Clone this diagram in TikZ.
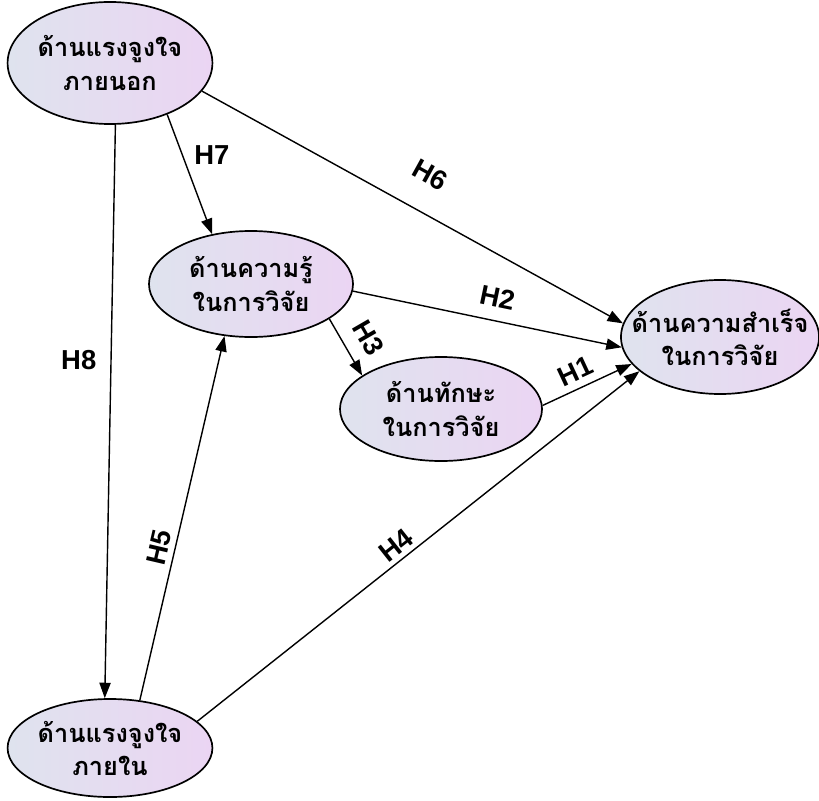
\documentclass[tikz,border=0pt]{standalone}
\usepackage{fontspec}
\setmainfont{Liberation Sans}
\newfontfamily\thaifont[Script=Thai]{Loma}
\usetikzlibrary{shapes.geometric,arrows.meta}

\definecolor{factorL}{HTML}{DFE3EE}
\definecolor{factorR}{HTML}{EBD5F3}

\tikzset{
  factor/.style={ellipse, draw, line width=1.2pt, left color=factorL, right color=factorR,
    inner xsep=-18pt, inner ysep=-10pt, align=center,
    font=\thaifont\bfseries\fontsize{18}{23.5}\selectfont},
  link/.style={line width=1pt, -{Triangle[length=11pt,width=8pt]}},
  lbl/.style={inner sep=0pt, font=\bfseries\fontsize{19.5}{22}\selectfont},
  hyp/.style={lbl, sloped, above=#1},
  hyp/.default=10pt
}

\begin{document}
\begin{tikzpicture}[x=0.025cm, y=-0.025cm]
  \useasboundingbox (0,0) rectangle (819,800);

  % the five factors
  \node[factor, minimum width=5.12cm, minimum height=3.05cm] (ext) at (110,63) {ด้านแรงจูงใจ\\ภายนอก};
  \node[factor, minimum width=5.1cm, minimum height=2.65cm] (know) at (251,284) {ด้านความรู้\\ในการวิจัย};
  \node[factor, minimum width=5.05cm, minimum height=2.6cm] (skill) at (441,409) {ด้านทักษะ\\ในการวิจัย};
  \node[factor, minimum width=4.95cm, minimum height=2.85cm] (succ) at (720,337) {ด้านความสำเร็จ\\ในการวิจัย};
  \node[factor, minimum width=5.12cm, minimum height=2.45cm] (int) at (110,748) {ด้านแรงจูงใจ\\ภายใน};

  % hypotheses
  \draw[link] (ext.275) -- node[lbl, pos=.41, left=10pt] (h8) {H8} (int.96);
  \draw[link] (ext.318) -- node[lbl, pos=.34, right=8pt] (h7) {H7} (know.128);
  \draw[link] (ext.343) -- node[hyp=19pt, pos=.5] (h6) {H6} (succ.172);
  \draw[link] (know.-4) -- node[hyp=9pt, pos=.52] (h2) {H2} (succ.186);
  \draw[link] (know.-24) -- node[hyp=10pt, pos=.55] (h3) {H3} (skill.157);
  \draw[link] (skill.2) -- node[hyp=5pt, pos=.45] (h1) {H1} (succ.197);
  \draw[link] (int.58) -- node[hyp=4pt, pos=.41] (h5) {H5} (know.243);
  \draw[link] (int.17) -- node[hyp=3pt, pos=.47] (h4) {H4} (succ.203);
\end{tikzpicture}
\end{document}
